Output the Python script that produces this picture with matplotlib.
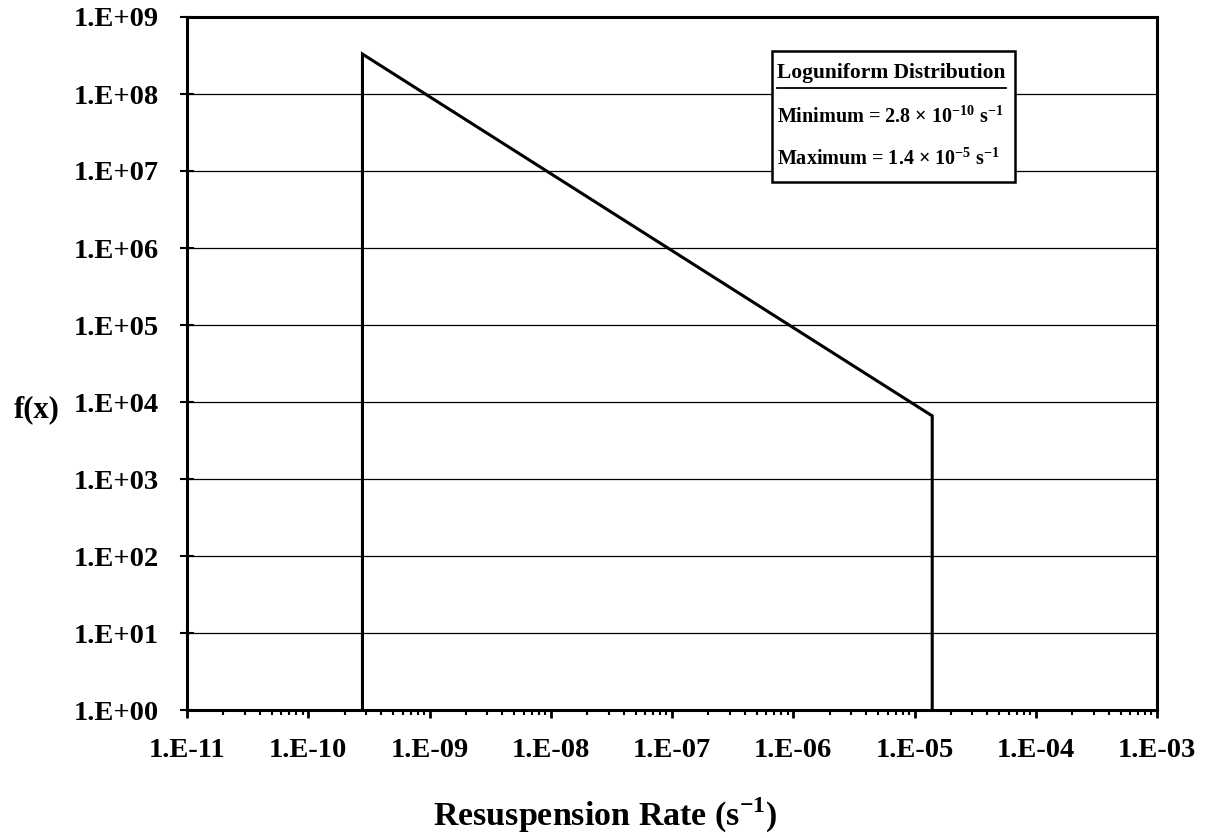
import matplotlib
matplotlib.use("Agg")
import matplotlib.pyplot as plt
from matplotlib.ticker import LogLocator, NullFormatter, FixedLocator

plt.rcParams['font.family'] = ['Liberation Serif', 'DejaVu Serif']
plt.rcParams['font.weight'] = 'bold'
plt.rcParams['mathtext.fontset'] = 'custom'
plt.rcParams['mathtext.rm'] = 'Liberation Serif:bold'
plt.rcParams['mathtext.bf'] = 'Liberation Serif:bold'

# Data
x_pts = [2.8e-10, 2.8e-10, 1.4e-5, 1.4e-5]
y_pts = [1.0, 3.3e8, 6.6e3, 1.0]
x_ticks = [1e-11, 1e-10, 1e-9, 1e-8, 1e-7, 1e-6, 1e-5, 1e-4, 1e-3]
x_labels = ['1.E-11', '1.E-10', '1.E-09', '1.E-08', '1.E-07', '1.E-06', '1.E-05', '1.E-04', '1.E-03']
y_ticks = [1e0, 1e1, 1e2, 1e3, 1e4, 1e5, 1e6, 1e7, 1e8, 1e9]
y_labels = ['1.E+00', '1.E+01', '1.E+02', '1.E+03', '1.E+04', '1.E+05', '1.E+06', '1.E+07', '1.E+08', '1.E+09']

fig = plt.figure(figsize=(12.09, 8.38), dpi=100)
ax = fig.add_axes([187/1209, 1 - 710/838, 970/1209, 693/838])
ax.set_xscale('log')
ax.set_yscale('log')
ax.set_xlim(1e-11, 1e-3)
ax.set_ylim(1e0, 1e9)

for yv in y_ticks[1:-1]:
    ax.axhline(yv, color='black', lw=0.9, zorder=1)

ax.plot(x_pts, y_pts, color='black', lw=2.2, zorder=3, solid_joinstyle='miter')

ax.set_xticks(x_ticks)
ax.set_xticklabels(x_labels)
ax.xaxis.set_minor_locator(LogLocator(base=10, subs=range(2, 10), numticks=100))
ax.xaxis.set_minor_formatter(NullFormatter())
ax.set_yticks(y_ticks)
ax.set_yticklabels(y_labels)
ax.yaxis.set_minor_locator(FixedLocator([]))

ax.tick_params(axis='x', which='major', direction='out', length=6, width=2, labelsize=20.5, pad=14)
ax.tick_params(axis='x', which='minor', direction='out', length=3.5, width=1.5)
ax.tick_params(axis='y', which='major', direction='inout', length=10, width=1.5, labelsize=20.5, pad=15.5)
for lbl in ax.get_xticklabels() + ax.get_yticklabels():
    lbl.set_fontweight('bold')

for s in ax.spines.values():
    s.set_linewidth(2.2)

ax.set_xlabel(r'Resuspension Rate (s$^{\mathregular{-1}}$)', fontsize=24.5, fontweight='bold')
ax.xaxis.set_label_coords((605.5 - 187) / 970, (710 - 815) / 693)
ax.xaxis.label.set_va('center')
ax.set_ylabel('f(x)', fontsize=22, fontweight='bold', rotation=0)
ax.yaxis.set_label_coords((37 - 187) / 970, (710 - 410) / 693)
ax.yaxis.label.set_va('center')
ax.yaxis.label.set_ha('center')

# Text box
bx0 = (772 - 187) / 970
bx1 = (1015 - 187) / 970
by1 = (710 - 51) / 693
by0 = (710 - 182) / 693
rect = plt.Rectangle((bx0, by0), bx1 - bx0, by1 - by0, transform=ax.transAxes,
                     facecolor='white', edgecolor='black', lw=1.8, zorder=5)
ax.add_patch(rect)
tx = (777 - 187) / 970
ax.text(tx, (710 - 73) / 693, 'Loguniform Distribution', transform=ax.transAxes,
        fontsize=15.5, fontweight='bold', va='center', ha='left', zorder=6)
ax.plot([tx, (1006 - 187) / 970], [(710 - 88) / 693] * 2, transform=ax.transAxes,
        color='black', lw=1.3, zorder=6)
ax.text(tx, (710 - 117) / 693, r'Minimum = 2.8 × 10$^{\mathregular{-10}}$ s$^{\mathregular{-1}}$',
        transform=ax.transAxes, fontsize=14.5, fontweight='bold', va='center', ha='left', zorder=6)
ax.text(tx, (710 - 159) / 693, r'Maximum = 1.4 × 10$^{\mathregular{-5}}$ s$^{\mathregular{-1}}$',
        transform=ax.transAxes, fontsize=14.5, fontweight='bold', va='center', ha='left', zorder=6)

fig.savefig('out.png', dpi=100)
